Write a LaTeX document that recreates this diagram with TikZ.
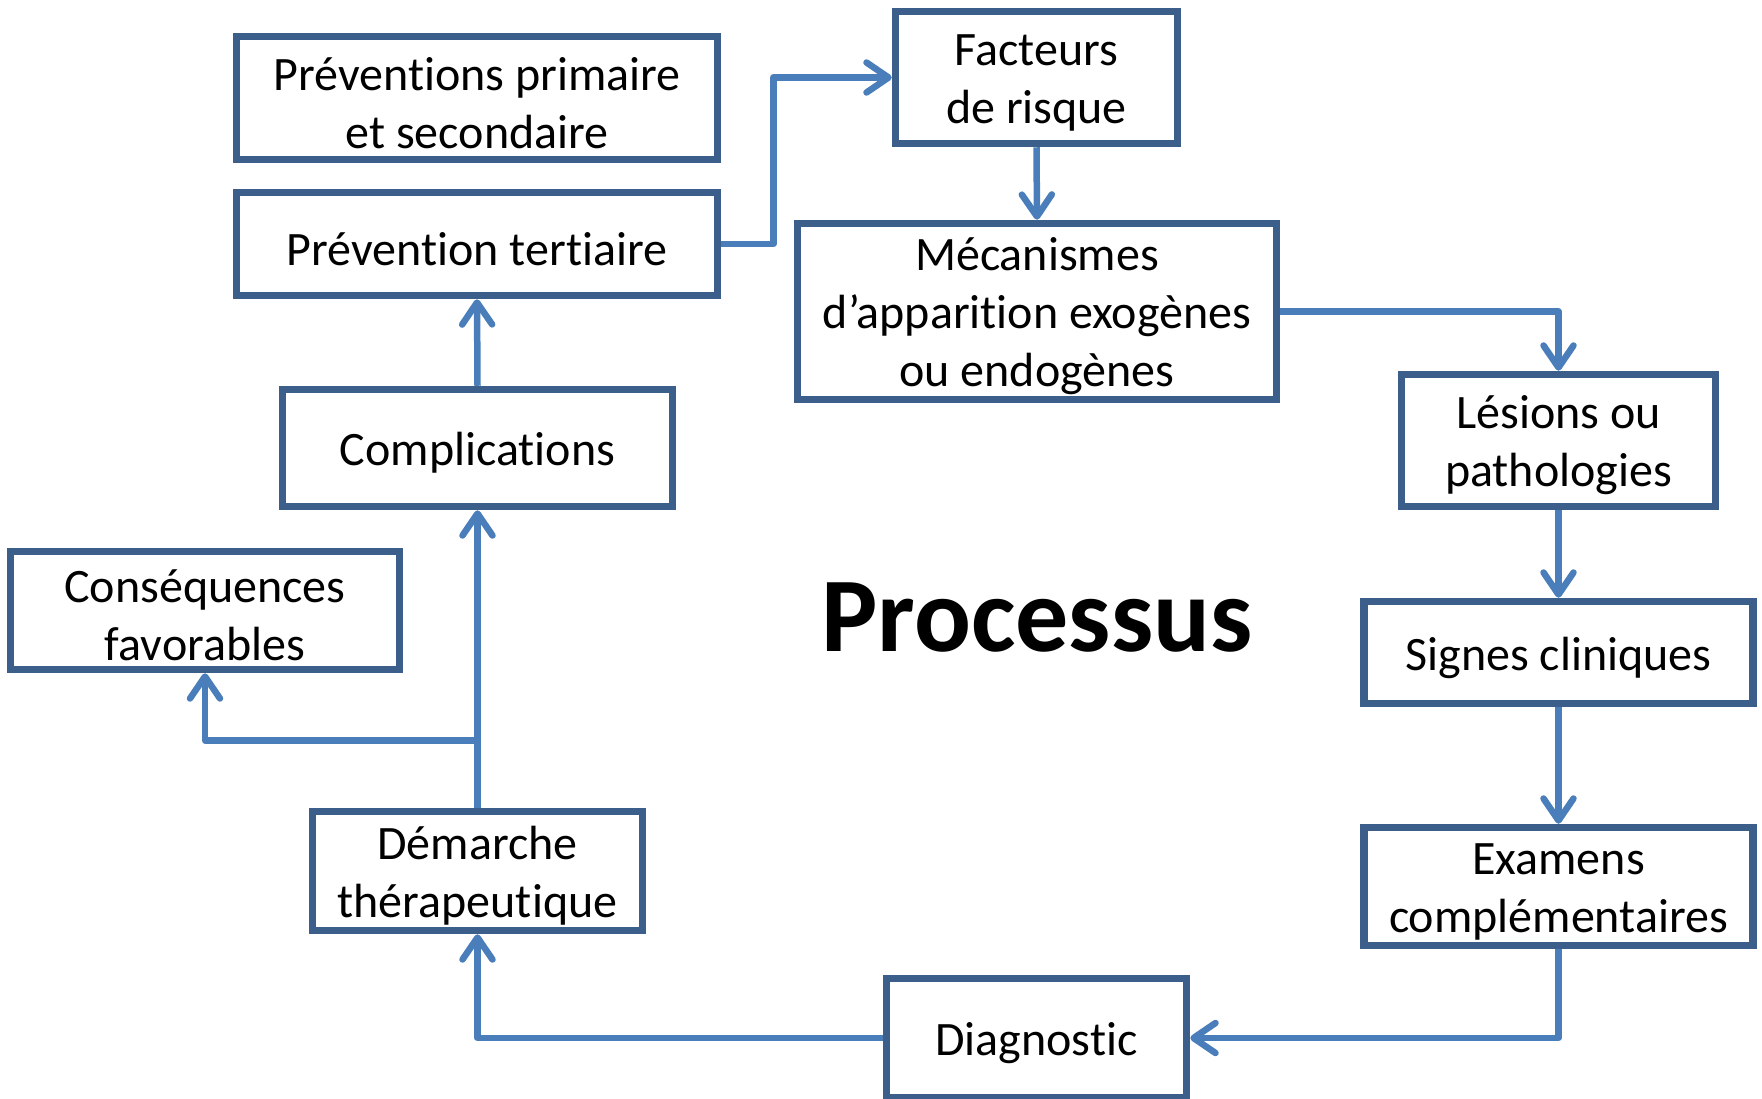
\documentclass[tikz,border=0pt]{standalone}
\usepackage{fontspec}
\setmainfont[Ligatures=NoCommon]{Carlito}
\usetikzlibrary{arrows.meta}
\definecolor{boxblue}{HTML}{3B5E8A}
\definecolor{arrowblue}{HTML}{4A7EBB}
\tikzset{
  box/.style={draw=boxblue, line width=7.5pt, fill=white, inner sep=0pt},
  txt/.style={align=center, inner sep=0pt, font=\fontsize{48}{58}\selectfont, text=black},
  conn/.style={draw=arrowblue, line width=6.5pt, line join=round,
    -{Straight Barb[length=22pt,width=30pt,round]}},
}
\begin{document}
\begin{tikzpicture}[x=1pt,y=-1pt]
\useasboundingbox[fill=white] (0,0) rectangle (1762,1098);
\node[box, minimum width=481, minimum height=123] (prevA) at (477,98) {};
\node[box, minimum width=481, minimum height=103] (prevT) at (477,244) {};
\node[box, minimum width=282, minimum height=132] (fact) at (1036.5,77.5) {};
\node[box, minimum width=479, minimum height=176] (meca) at (1037,311.5) {};
\node[box, minimum width=314, minimum height=132] (les) at (1558.5,440.5) {};
\node[box, minimum width=389, minimum height=102] (sig) at (1558.5,652.5) {};
\node[box, minimum width=389, minimum height=118] (exa) at (1558.5,886.5) {};
\node[box, minimum width=300, minimum height=119] (diag) at (1036.5,1038) {};
\node[box, minimum width=330, minimum height=119] (dem) at (477.5,871) {};
\node[box, minimum width=390, minimum height=117] (comp) at (477.5,448) {};
\node[box, minimum width=389, minimum height=118] (cons) at (205,610.5) {};
\node[txt] (prevA-t) at ([yshift=-5]prevA.center) {Préventions primaire\\et secondaire};
\node[txt] (prevT-t) at ([yshift=-5]prevT.center) {Prévention tertiaire};
\node[txt] (fact-t) at ([yshift=-5]fact.center) {Facteurs\\de risque};
\node[txt] (meca-t) at ([yshift=-5]meca.center) {Mécanismes\\d’apparition exogènes\\ou endogènes};
\node[txt] (les-t) at ([yshift=-5]les.center) {Lésions ou\\pathologies};
\node[txt] (sig-t) at ([yshift=-5]sig.center) {Signes cliniques};
\node[txt] (exa-t) at ([yshift=-5]exa.center) {Examens\\complémentaires};
\node[txt] (diag-t) at ([yshift=-5]diag.center) {Diagnostic};
\node[txt] (dem-t) at ([yshift=-5]dem.center) {Démarche\\thérapeutique};
\node[txt] (comp-t) at ([yshift=-5]comp.center) {Complications};
\node[txt] (cons-t) at ([yshift=-5]cons.center) {Conséquences\\favorables};
\node[font=\fontsize{106}{120}\selectfont\bfseries, inner sep=0pt] (proc) at (1037,618) {Processus};
\coordinate (br) at (477.5,740.5);
\draw[conn] (prevT.east) -- ++(52,0) |- (fact.west);
\draw[conn] (fact.south) -- (meca.north);
\draw[conn] (meca.east) -| (les.north);
\draw[conn] (les.south) -- (sig.north);
\draw[conn] (sig.south) -- (exa.north);
\draw[conn] (exa.south) |- (diag.east);
\draw[conn] (diag.west) -| (dem.south);
\draw[conn] (dem.north) -- (comp.south);
\draw[conn] (br) -| (cons.south);
\draw[conn] (comp.north) -- (prevT.south);
\end{tikzpicture}
\end{document}
